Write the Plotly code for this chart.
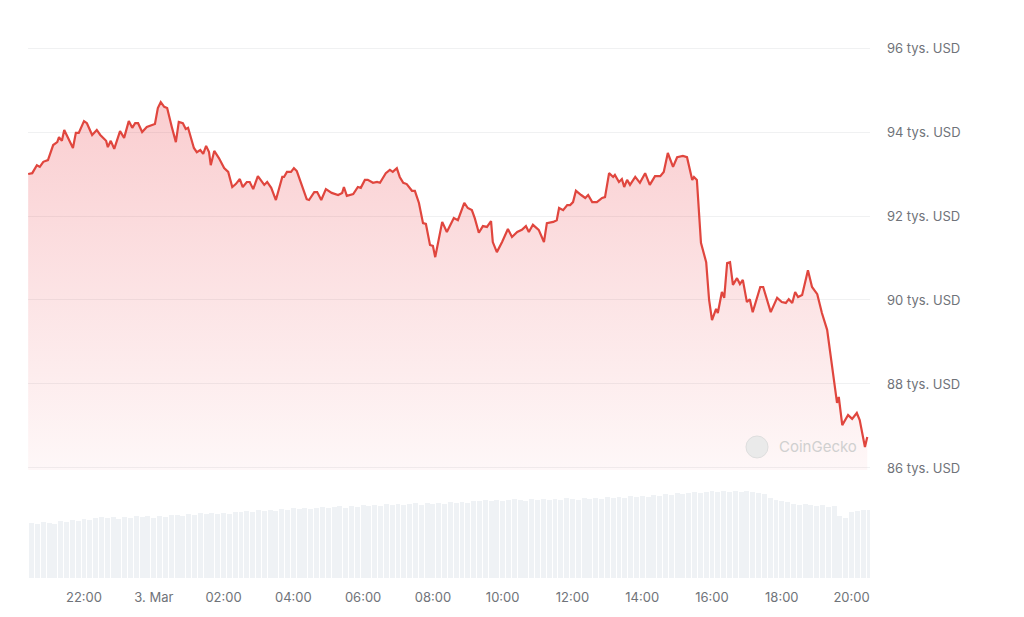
import pandas as pd
import plotly.graph_objects as go

# ---- data ----
# minutes since 2025-03-02 20:00
time_min = [24, 31, 39, 44, 50, 58, 67, 74, 77, 82, 86, 92, 101, 106, 111, 120, 125, 134, 142, 148,
            158, 161, 166, 172, 182, 189, 197, 203, 208, 213, 220, 228, 242, 247, 252, 258, 263, 271, 278, 283,
            290, 295, 299, 309, 314, 320, 325, 330, 335, 338, 344, 352, 361, 368, 375, 381, 388, 393, 400, 405,
            411, 419, 430, 435, 442, 450, 461, 464, 469, 476, 481, 486, 495, 503, 507, 516, 521, 528, 536, 546,
            557, 564, 567, 572, 583, 591, 596, 603, 608, 617, 624, 629, 639, 646, 651, 658, 663, 669, 675, 684,
            689, 696, 703, 708, 715, 720, 724, 736, 744, 756, 763, 774, 780, 787, 792, 799, 806, 813, 820, 823,
            830, 839, 849, 856, 865, 873, 880, 885, 892, 902, 911, 916, 927, 933, 937, 944, 951, 956, 961, 966,
            975, 982, 987, 994, 1002, 1011, 1016, 1023, 1030, 1033, 1040, 1045, 1049, 1054, 1059, 1068, 1076, 1085, 1093, 1102,
            1111, 1117, 1124, 1133, 1140, 1150, 1157, 1166, 1169, 1174, 1181, 1190, 1195, 1200, 1207, 1210, 1217, 1221, 1226, 1231,
            1236, 1243, 1248, 1253, 1260, 1265, 1270, 1283, 1288, 1301, 1312, 1320, 1327, 1332, 1338, 1343, 1348, 1355, 1365, 1372,
            1381, 1389, 1398, 1405, 1408, 1415, 1418, 1424, 1434, 1441, 1449, 1454, 1463, 1467]

price_usd = [93000, 93020, 93210, 93170, 93290, 93330, 93690, 93760, 93880, 93790, 94050, 93880, 93620, 93980, 93980, 94260, 94210, 93930, 94050, 93930,
             93790, 93640, 93790, 93600, 94020, 93860, 94260, 94100, 94210, 94210, 94000, 94120, 94190, 94570, 94710, 94600, 94570, 94120, 93760, 94240,
             94210, 94070, 94100, 93620, 93520, 93570, 93480, 93670, 93520, 93210, 93550, 93380, 93140, 93050, 92690, 92760, 92880, 92690, 92810, 92810,
             92640, 92950, 92740, 92810, 92670, 92380, 92930, 92930, 93050, 93050, 93140, 93070, 92690, 92400, 92380, 92570, 92570, 92380, 92640, 92550,
             92500, 92550, 92690, 92480, 92520, 92690, 92670, 92860, 92860, 92790, 92810, 92790, 93020, 93100, 93050, 93140, 92930, 92790, 92760, 92600,
             92600, 92310, 91830, 91810, 91310, 91290, 91020, 91860, 91620, 91950, 91900, 92310, 92190, 92140, 91950, 91600, 91760, 91740, 91880, 91380,
             91140, 91380, 91690, 91500, 91620, 91670, 91760, 91620, 91790, 91670, 91380, 91830, 91860, 91900, 92190, 92140, 92260, 92260, 92330, 92600,
             92500, 92430, 92500, 92330, 92330, 92430, 92450, 93020, 92930, 92980, 92810, 92880, 92690, 92860, 92740, 92930, 92790, 93020, 92740, 92950,
             92950, 93050, 93500, 93170, 93400, 93430, 93400, 92860, 92930, 92860, 91360, 90900, 90000, 89520, 89790, 89690, 90190, 90050, 90880, 90900,
             90360, 90520, 90380, 90480, 89950, 90020, 89710, 90310, 90310, 89710, 90050, 89950, 89930, 90020, 89930, 90190, 90070, 90120, 90710, 90310,
             90140, 89690, 89290, 88570, 88330, 87550, 87690, 87020, 87260, 87170, 87310, 87140, 86500, 86740]

# volume bars, one every 10 minutes from 20:30 (relative units)
volume_start = "2025-03-02 20:30"
volume = [55, 54, 56, 55, 54, 57, 56, 58, 57, 59, 58, 60, 61, 60, 61, 59, 61, 60, 62, 61,
          62, 60, 62, 61, 63, 63, 62, 64, 63, 65, 64, 65, 64, 65, 64, 66, 66, 67, 66, 68,
          67, 68, 67, 69, 68, 70, 69, 70, 69, 70, 71, 70, 71, 72, 70, 72, 71, 73, 72, 73,
          72, 74, 73, 74, 73, 74, 75, 73, 75, 74, 75, 74, 76, 75, 76, 75, 77, 77, 78, 77,
          78, 77, 78, 79, 78, 77, 79, 78, 79, 78, 79, 78, 80, 79, 78, 80, 79, 80, 79, 81,
          80, 81, 80, 82, 81, 82, 81, 83, 82, 84, 83, 85, 84, 85, 86, 85, 86, 87, 86, 87,
          86, 87, 86, 87, 86, 85, 84, 80, 78, 77, 76, 74, 73, 74, 73, 72, 73, 71, 72, 62,
          60, 66, 67, 68, 68]

x_tick_times = ["2025-03-02 22:00", "2025-03-03 00:00", "2025-03-03 02:00", "2025-03-03 04:00",
                "2025-03-03 06:00", "2025-03-03 08:00", "2025-03-03 10:00", "2025-03-03 12:00",
                "2025-03-03 14:00", "2025-03-03 16:00", "2025-03-03 18:00", "2025-03-03 20:00"]
x_tick_labels = ["22:00", "3. Mar", "02:00", "04:00", "06:00", "08:00", "10:00", "12:00",
                 "14:00", "16:00", "18:00", "20:00"]
y_tick_vals = [86000, 88000, 90000, 92000, 94000, 96000]
y_tick_labels = ["86 tys. USD", "88 tys. USD", "90 tys. USD", "92 tys. USD", "94 tys. USD", "96 tys. USD"]

# ---- build ----
base = pd.Timestamp("2025-03-02 20:00")
t = base + pd.to_timedelta(time_min, unit="min")
vt = pd.date_range(volume_start, periods=len(volume), freq="10min")

RED = "#e0463e"
GRAY = "#6f7379"
FONT = "Inter, Roboto, sans-serif"

fig = go.Figure()
fig.add_trace(go.Bar(
    x=vt, y=volume, xaxis="x", yaxis="y2",
    marker=dict(color="#eff2f5", line=dict(width=0)),
    width=8.5 * 60 * 1000, hoverinfo="skip", showlegend=False,
))
fig.add_trace(go.Scatter(
    x=t, y=price_usd, xaxis="x", yaxis="y",
    mode="lines", line=dict(color=RED, width=2.2, shape="linear"),
    fill="tozeroy",
    fillgradient=dict(type="vertical", start=86000, stop=94700,
                      colorscale=[[0, "rgba(234,57,67,0.04)"], [1, "rgba(234,57,67,0.25)"]]),
    showlegend=False, hoverinfo="skip",
))

x_lo = base + pd.Timedelta(minutes=23.7)
x_hi = base + pd.Timedelta(minutes=1471.7)

fig.update_layout(
    width=1016, height=609,
    margin=dict(l=20, r=154, t=12, b=39),
    paper_bgcolor="white", plot_bgcolor="white",
    font=dict(family=FONT, size=13, color=GRAY),
    showlegend=False,
    bargap=0,
    xaxis=dict(type="date", range=[x_lo, x_hi], anchor="y2", tickvals=pd.to_datetime(x_tick_times),
               ticktext=x_tick_labels, showgrid=False, zeroline=False, showline=False,
               ticks="", ticklabelstandoff=10, tickfont=dict(size=13, color=GRAY)),
    yaxis=dict(domain=[0.19355, 1.0], range=[85952, 96667], side="right", anchor="x",
               tickvals=y_tick_vals, ticktext=y_tick_labels,
               showgrid=True, gridcolor="#f0f1f2", gridwidth=1, zeroline=False, showline=False,
               ticks="", ticklabelstandoff=16, tickfont=dict(size=13, color=GRAY)),
    yaxis2=dict(domain=[0, 0.1792], range=[0, 100], visible=False, anchor="x"),
    shapes=[dict(type="circle", xref="paper", yref="paper",
                 x0=0.8527, x1=0.8789, y0=0.2151, y1=0.2545,
                 fillcolor="#eaeaea", line=dict(width=1, color="#dedede"), layer="above")],
    annotations=[dict(text="CoinGecko", xref="paper", yref="paper", x=0.9383, y=0.2348,
                      xanchor="center", yanchor="middle",
                      showarrow=False, font=dict(family=FONT, size=15, color="#d0d0d0"))],
)

fig.write_html("out.html", config={"displayModeBar": False})
